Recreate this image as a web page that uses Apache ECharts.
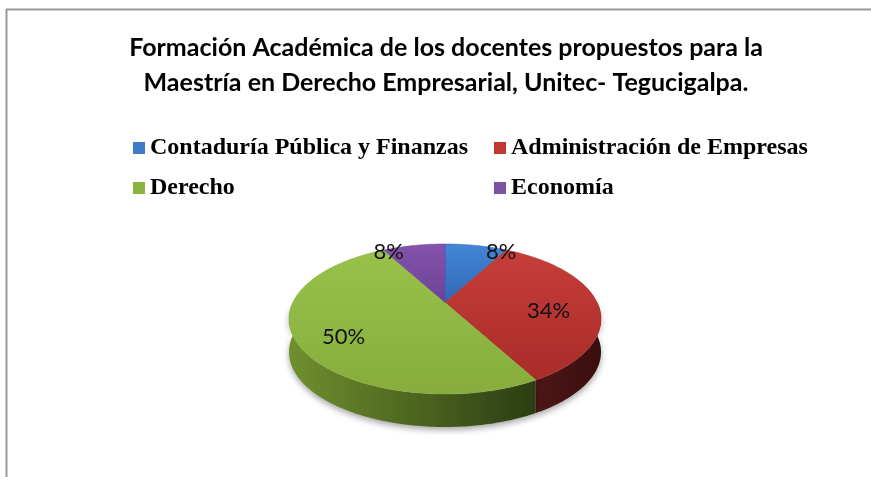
<!DOCTYPE html>
<html>
<head>
<meta charset="utf-8">
<script src="https://cdn.jsdelivr.net/npm/echarts@6/dist/echarts.min.js"></script>
<style>
  html, body { margin: 0; padding: 0; background: #fff; }
  #chart { width: 871px; height: 477px; }
</style>
</head>
<body>
<div id="chart"></div>
<script>
const categories = ['Contaduría Pública y Finanzas', 'Administración de Empresas', 'Derecho', 'Economía']
const values = [8, 34, 50, 8]
const titleLines = [
  'Formación Académica de los docentes propuestos para la',
  'Maestría en Derecho Empresarial, Unitec- Tegucigalpa.'
]

// colours: legend / top face (light, dark) / side wall (left, right)
const baseColors = ['#3c7cc8', '#c0392f', '#8db441', '#7b52a3']
const topColors = [['#4387d6', '#2f68b4'], ['#c73e39', '#a82c29'], ['#98c24a', '#86ad3d'], ['#8553ad', '#6c4395']]
const sideColors = [['#2a5a94', '#1c3d66'], ['#4e1616', '#3a0e0e'], ['#6f902e', '#2c3c12'], ['#5a3a7a', '#3d2754']]

// pie layout (px); persp < 1 squeezes the back of the pie like a tilted view
const cx = 445, cy = 319, rx = 156, ry = 75, depth = 33, persp = 0.8
const total = values.reduce((a, b) => a + b, 0)
const apexY = cy - ry * Math.cos(2 * Math.atan(persp))

// true pie angle (deg, clockwise from top) -> angle on the drawn ellipse (rad)
function warp (deg) {
  const t = deg * Math.PI / 360
  if (Math.abs(Math.cos(t)) < 1e-9) return deg * Math.PI / 180
  return 2 * Math.atan(persp * Math.tan(t))
}
function pt (deg, dy) {
  const r = warp(deg)
  return [cx + rx * Math.sin(r), cy - ry * Math.cos(r) + (dy || 0)]
}
function arc (a1, a2, dy) {
  const pts = []
  const n = Math.max(2, Math.ceil(Math.abs(a2 - a1)))
  for (let i = 0; i <= n; i++) pts.push(pt(a1 + (a2 - a1) * i / n, dy))
  return pts
}

function renderSlice (params, api) {
  const i = params.seriesIndex
  const v = api.value(0)
  const before = values.slice(0, i).reduce((a, b) => a + b, 0)
  const a1 = before / total * 360
  const a2 = (before + v) / total * 360
  const apex = [cx, apexY]
  const children = []
  // side wall: only the front part of the rim shows
  const s1 = Math.max(a1, 90), s2 = Math.min(a2, 270)
  if (s2 > s1) {
    children.push({
      type: 'polygon',
      shape: { points: arc(s1, s2, 0).concat(arc(s2, s1, depth)) },
      style: {
        fill: new echarts.graphic.LinearGradient(0, 0, 1, 0, [
          { offset: 0, color: sideColors[i][0] },
          { offset: 1, color: sideColors[i][1] }
        ]),
        shadowBlur: 6,
        shadowOffsetY: 3,
        shadowColor: 'rgba(0,0,0,0.35)'
      }
    })
  }
  // top face
  children.push({
    type: 'polygon',
    shape: { points: [apex].concat(arc(a1, a2, 0)) },
    style: {
      fill: new echarts.graphic.LinearGradient(0, 0, 0, 1, [
        { offset: 0, color: topColors[i][0] },
        { offset: 1, color: topColors[i][1] }
      ]),
      stroke: topColors[i][1],
      lineWidth: 0.5
    }
  })
  // percent label
  const mid = (a1 + a2) / 2
  const e = pt(mid, 0)
  let lx, ly
  if (v / total < 0.1) {
    lx = e[0] + Math.sign(e[0] - cx) * 25
    ly = e[1] + 6
  } else {
    lx = cx + (e[0] - cx) * 0.68
    ly = cy + (e[1] - cy) * 0.68 + 3
  }
  children.push({
    type: 'text',
    z2: 10,
    style: {
      text: Math.round(v / total * 100) + '%',
      x: lx,
      y: ly,
      align: 'center',
      verticalAlign: 'middle',
      fill: '#111',
      font: '22px Lato'
    }
  })
  return { type: 'group', children }
}

const legendBase = {
  orient: 'vertical',
  top: 136,
  padding: 0,
  itemGap: 16,
  itemWidth: 12,
  itemHeight: 12,
  icon: 'rect',
  textStyle: {
    fontFamily: 'Liberation Serif',
    fontWeight: 'bold',
    fontSize: 24,
    lineHeight: 24,
    color: '#000'
  }
}

const option = {
  animation: false,
  title: {
    text: titleLines.join('\n'),
    left: 441,
    top: 25,
    textAlign: 'center',
    textStyle: {
      fontFamily: 'Lato',
      fontWeight: 'bold',
      fontSize: 25,
      lineHeight: 35,
      color: '#000'
    }
  },
  legend: [
    Object.assign({}, legendBase, { left: 133, data: [categories[0], categories[2]] }),
    Object.assign({}, legendBase, { left: 494, data: [categories[1], categories[3]] })
  ],
  graphic: [
    { type: 'line', shape: { x1: 6, y1: 9.5, x2: 871, y2: 9.5 }, style: { stroke: '#9a9a9a', lineWidth: 2 } },
    { type: 'line', shape: { x1: 6.5, y1: 9, x2: 6.5, y2: 477 }, style: { stroke: '#9a9a9a', lineWidth: 2 } }
  ],
  series: categories.map((name, i) => ({
    type: 'custom',
    name: name,
    coordinateSystem: 'none',
    itemStyle: { color: baseColors[i] },
    renderItem: renderSlice,
    data: [values[i]]
  }))
}

const myChart = echarts.init(document.getElementById('chart'))
myChart.setOption(option)
</script>
</body>
</html>
